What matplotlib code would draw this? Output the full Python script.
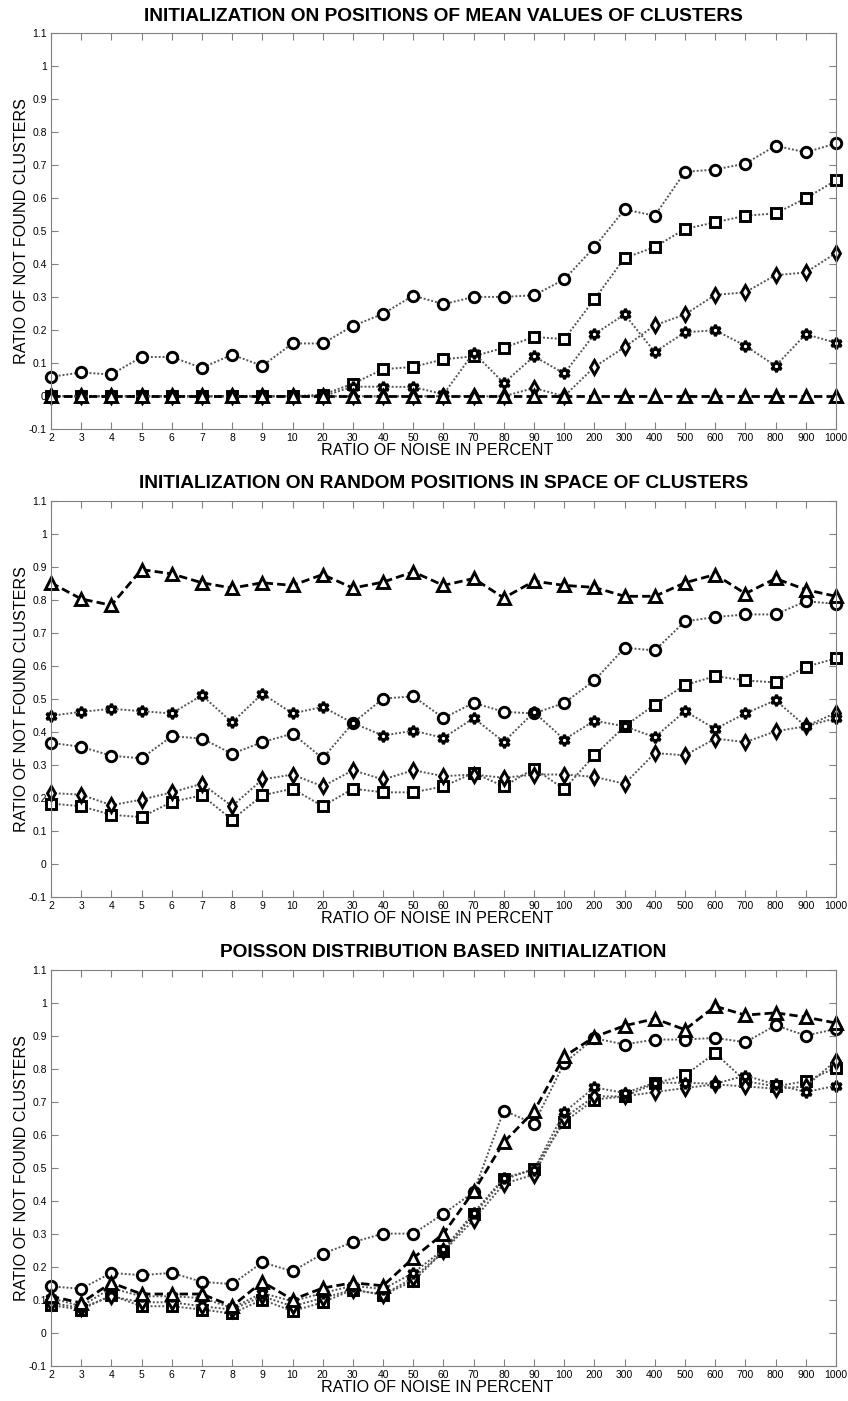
import numpy as np
import matplotlib
matplotlib.use("Agg")
import matplotlib.pyplot as plt

plt.rcParams['font.family'] = ['Liberation Sans', 'DejaVu Sans']

# noise ratio categories (x axis)
noise = ["2", "3", "4", "5", "6", "7", "8", "9", "10",
         "20", "30", "40", "50", "60", "70", "80", "90", "100",
         "200", "300", "400", "500", "600", "700", "800", "900", "1000"]

titles = ["INITIALIZATION ON POSITIONS OF MEAN VALUES OF CLUSTERS",
          "INITIALIZATION ON RANDOM POSITIONS IN SPACE OF CLUSTERS",
          "POISSON DISTRIBUTION BASED INITIALIZATION"]

# panel 1: mean-value initialization
p1_circle = [0.059, 0.072, 0.066, 0.119, 0.119, 0.086, 0.126, 0.092, 0.160,
             0.160, 0.213, 0.250, 0.305, 0.279, 0.301, 0.301, 0.306, 0.354,
             0.452, 0.566, 0.547, 0.680, 0.687, 0.705, 0.759, 0.739, 0.766]
p1_square = [0.0, 0.0, 0.0, 0.0, 0.0, 0.0, 0.0, 0.0, 0.0,
             0.005, 0.038, 0.082, 0.089, 0.112, 0.121, 0.147, 0.180, 0.173,
             0.294, 0.419, 0.452, 0.507, 0.527, 0.547, 0.554, 0.600, 0.654]
p1_diamond = [0.0, 0.0, 0.0, 0.0, 0.0, 0.0, 0.0, 0.0, 0.0,
              0.0, 0.0, 0.0, 0.0, 0.0, 0.0, 0.0, 0.025, 0.0,
              0.089, 0.149, 0.215, 0.248, 0.307, 0.315, 0.367, 0.375, 0.434]
p1_star = [0.0, 0.0, 0.0, 0.0, 0.0, 0.0, 0.0, 0.0, 0.0,
           0.0, 0.029, 0.029, 0.028, 0.006, 0.132, 0.040, 0.121, 0.069,
           0.188, 0.248, 0.134, 0.194, 0.200, 0.153, 0.092, 0.188, 0.162]
p1_triangle = [0.0] * 27

# panel 2: random initialization
p2_circle = [0.366, 0.354, 0.327, 0.319, 0.386, 0.379, 0.333, 0.368, 0.394,
             0.319, 0.426, 0.500, 0.507, 0.441, 0.487, 0.460, 0.455, 0.487,
             0.555, 0.654, 0.646, 0.734, 0.747, 0.755, 0.755, 0.795, 0.787]
p2_square = [0.182, 0.174, 0.148, 0.141, 0.187, 0.207, 0.133, 0.207, 0.227,
             0.174, 0.227, 0.216, 0.216, 0.234, 0.275, 0.234, 0.288, 0.226,
             0.328, 0.416, 0.482, 0.541, 0.568, 0.555, 0.549, 0.596, 0.622]
p2_diamond = [0.214, 0.209, 0.177, 0.194, 0.216, 0.242, 0.174, 0.255, 0.270,
              0.234, 0.283, 0.255, 0.283, 0.265, 0.270, 0.260, 0.270, 0.270,
              0.263, 0.242, 0.335, 0.328, 0.379, 0.368, 0.401, 0.416, 0.457]
p2_star = [0.448, 0.460, 0.469, 0.462, 0.455, 0.510, 0.428, 0.515, 0.455,
           0.475, 0.426, 0.388, 0.403, 0.381, 0.441, 0.369, 0.459, 0.376,
           0.433, 0.416, 0.383, 0.462, 0.408, 0.455, 0.495, 0.416, 0.441]
p2_triangle = [0.851, 0.802, 0.783, 0.891, 0.878, 0.851, 0.835, 0.851, 0.843,
               0.876, 0.835, 0.853, 0.884, 0.843, 0.864, 0.805, 0.856, 0.843,
               0.837, 0.810, 0.810, 0.851, 0.876, 0.818, 0.864, 0.830, 0.810]

# panel 3: poisson initialization
p3_circle = [0.141, 0.134, 0.182, 0.175, 0.182, 0.155, 0.148, 0.214, 0.187,
             0.240, 0.275, 0.301, 0.301, 0.361, 0.427, 0.674, 0.634, 0.818,
             0.893, 0.874, 0.889, 0.889, 0.894, 0.881, 0.932, 0.901, 0.921]
p3_square = [0.084, 0.071, 0.114, 0.081, 0.081, 0.071, 0.059, 0.101, 0.066,
             0.093, 0.131, 0.116, 0.157, 0.247, 0.359, 0.465, 0.497, 0.639,
             0.707, 0.717, 0.756, 0.781, 0.848, 0.763, 0.747, 0.763, 0.803]
p3_diamond = [0.091, 0.076, 0.111, 0.093, 0.093, 0.081, 0.071, 0.111, 0.081,
              0.106, 0.131, 0.116, 0.167, 0.247, 0.343, 0.452, 0.480, 0.652,
              0.717, 0.717, 0.730, 0.742, 0.753, 0.747, 0.740, 0.747, 0.825]
p3_star = [0.106, 0.081, 0.136, 0.111, 0.111, 0.106, 0.076, 0.121, 0.096,
           0.121, 0.143, 0.133, 0.182, 0.253, 0.364, 0.470, 0.495, 0.669,
           0.744, 0.727, 0.758, 0.758, 0.755, 0.780, 0.753, 0.730, 0.749]
p3_triangle = [0.111, 0.091, 0.152, 0.118, 0.118, 0.118, 0.081, 0.155, 0.101,
               0.136, 0.152, 0.143, 0.227, 0.301, 0.429, 0.578, 0.672, 0.838,
               0.897, 0.931, 0.952, 0.919, 0.990, 0.963, 0.970, 0.957, 0.939]

panels = [
    [p1_circle, p1_square, p1_diamond, p1_star, p1_triangle],
    [p2_circle, p2_square, p2_diamond, p2_star, p2_triangle],
    [p3_circle, p3_square, p3_diamond, p3_star, p3_triangle],
]

hexagram = (6, 1, 0)
styles = [
    dict(marker="o", ls=(0, (1, 1)), color="#555555", lw=1.4, ms=7.5),
    dict(marker="s", ls=(0, (1, 1)), color="#555555", lw=1.4, ms=6.5),
    dict(marker="d", ls=(0, (1, 1)), color="#555555", lw=1.4, ms=7.5),
    dict(marker=hexagram, ls=(0, (1, 1)), color="#555555", lw=1.4, ms=8),
    dict(marker="^", ls=(0, (3, 1.5)), color="black", lw=2.0, ms=8),
]

yticks = np.round(np.arange(-0.1, 1.11, 0.1), 1)
ylabels = ["%g" % v for v in yticks]

fig = plt.figure(figsize=(8.48, 14.01), dpi=100)
bottoms = [0.6936, 0.3600, 0.0250]
x = np.arange(len(noise))

for i, series in enumerate(panels):
    ax = fig.add_axes([0.0601, bottoms[i], 0.9257, 0.2827])
    for vals, st in zip(series, styles):
        ax.plot(x, vals, linestyle=st["ls"], color=st["color"], lw=st["lw"],
                marker=st["marker"], ms=st["ms"], mfc="white", mec="black",
                mew=2.1, clip_on=False)
    ax.set_xlim(0, len(noise) - 1)
    ax.set_ylim(-0.1, 1.1)
    ax.set_xticks(x)
    ax.set_xticklabels(noise, fontsize=7.5)
    ax.set_yticks(yticks)
    ax.set_yticklabels(ylabels, fontsize=7.5)
    ax.tick_params(direction="in", length=5, top=True, right=True,
                   color="#808080", pad=3)
    for sp in ax.spines.values():
        sp.set_color("#808080")
    ax.set_title(titles[i], fontsize=13.8, fontweight="bold", pad=9)
    ax.set_xlabel("RATIO OF NOISE IN PERCENT", fontsize=11.6, labelpad=0, x=0.492)
    ax.set_ylabel("RATIO OF NOT FOUND CLUSTERS", fontsize=11.6, labelpad=0)

fig.savefig("out.png", dpi=100)
